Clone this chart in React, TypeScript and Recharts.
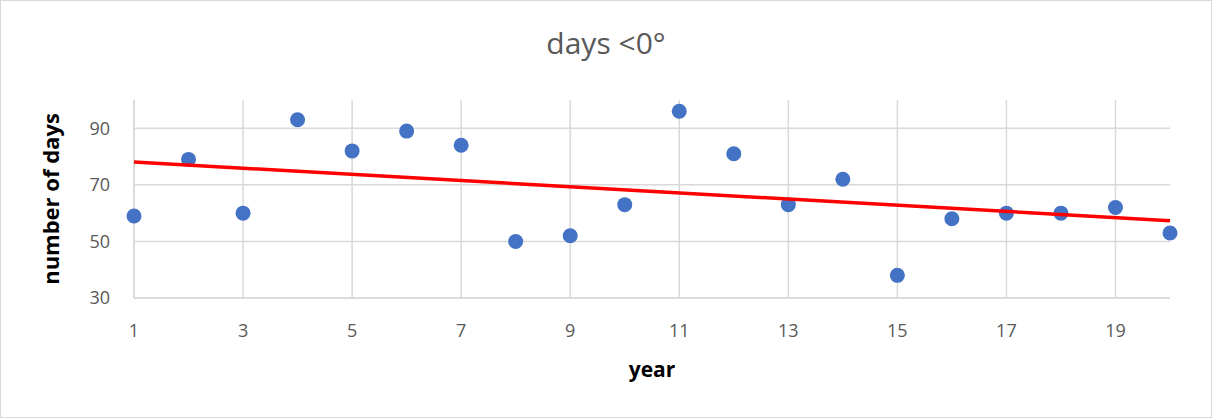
import { ScatterChart, Scatter, XAxis, YAxis, ReferenceLine, Label } from "recharts";

const years = [1, 2, 3, 4, 5, 6, 7, 8, 9, 10, 11, 12, 13, 14, 15, 16, 17, 18, 19, 20];
const daysBelowZero = [59, 79, 60, 93, 82, 89, 84, 50, 52, 63, 96, 81, 63, 72, 38, 58, 60, 60, 62, 53];
const xTicks = [1, 3, 5, 7, 9, 11, 13, 15, 17, 19];
const yTicks = [30, 50, 70, 90];

const points = years.map((x, i) => ({ x, y: daysBelowZero[i] }));

// least squares trend line, like Excel's linear trendline
function linearTrend(xs: number[], ys: number[]) {
  const n = xs.length;
  const mx = xs.reduce((a, b) => a + b, 0) / n;
  const my = ys.reduce((a, b) => a + b, 0) / n;
  let sxy = 0;
  let sxx = 0;
  xs.forEach((x, i) => {
    sxy += (x - mx) * (ys[i] - my);
    sxx += (x - mx) * (x - mx);
  });
  const slope = sxy / sxx;
  const x0 = xs[0];
  const x1 = xs[n - 1];
  return [
    { x: x0, y: my + slope * (x0 - mx) },
    { x: x1, y: my + slope * (x1 - mx) },
  ];
}

const trend = linearTrend(years, daysBelowZero);

const font = "'Open Sans', sans-serif";
const gray = "#595959";
const gridColor = "#d9d9d9";

const Dot = (props: any) => <circle cx={props.cx} cy={props.cy} r={7.5} fill="#4472C4" />;

export default function App() {
  return (
    <div style={{ position: "absolute", left: 0, top: 0, width: 1212, height: 418, background: "#fff", fontFamily: font }}>
      <div
        style={{
          position: "absolute",
          left: 0,
          top: 0,
          width: 1212,
          height: 418,
          boxSizing: "border-box",
          border: "1px solid #d9d9d9",
          pointerEvents: "none",
        }}
      />
      <div
        style={{
          position: "absolute",
          left: 0,
          top: 23,
          width: 1212,
          textAlign: "center",
          fontSize: 30,
          color: gray,
          lineHeight: "40px",
        }}
      >
        days &lt;0°
      </div>
      <ScatterChart
        width={1212}
        height={418}
        margin={{ top: 100, right: 42, bottom: 80, left: 74 }}
        style={{ position: "absolute", left: 0, top: 0 }}
      >
        {/* Excel-style grid: lines only at the labelled ticks */}
        {xTicks.map((t) => (
          <ReferenceLine key={"vx" + t} x={t} stroke={gridColor} strokeWidth={1.5} />
        ))}
        {yTicks.map((t) => (
          <ReferenceLine key={"hy" + t} y={t} stroke={gridColor} strokeWidth={1.5} />
        ))}
        <XAxis
          type="number"
          dataKey="x"
          domain={[1, 20]}
          ticks={xTicks}
          height={40}
          tickLine={false}
          tickSize={6}
          tickMargin={20}
          axisLine={{ stroke: gridColor, strokeWidth: 1.5 }}
          tick={{ fill: gray, fontSize: 18, fontFamily: font }}
          interval={0}
        >
          <Label value="year" position="insideBottom" offset={-39} fill="#000" fontSize={21} fontWeight={700} fontFamily={font} />
        </XAxis>
        <YAxis
          type="number"
          dataKey="y"
          domain={[30, 100]}
          ticks={yTicks}
          width={60}
          tickLine={false}
          tickSize={6}
          tickMargin={18}
          axisLine={{ stroke: gridColor, strokeWidth: 1.5 }}
          tick={{ fill: gray, fontSize: 18, fontFamily: font }}
          interval={0}
        >
          <Label
            value="number of days"
            angle={-90}
            position="center"
            dx={-53}
            fill="#000"
            fontSize={22}
            fontWeight={700}
            fontFamily={font}
          />
        </YAxis>
        <Scatter data={points} fill="#4472C4" isAnimationActive={false} shape={Dot} />
        <Scatter
          data={trend}
          line={{ stroke: "#ff0000", strokeWidth: 3.5 }}
          shape={() => <g />}
          isAnimationActive={false}
        />
      </ScatterChart>
    </div>
  );
}
